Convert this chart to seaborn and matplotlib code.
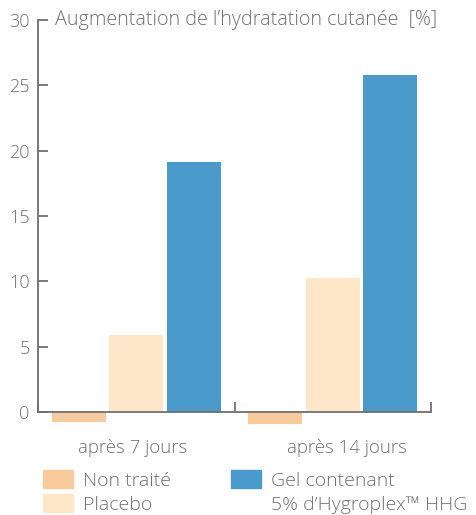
import numpy as np
import pandas as pd
import matplotlib
matplotlib.use("Agg")
import matplotlib.pyplot as plt
import matplotlib.patches as mpatches
import seaborn as sns

groups = ["après 7 jours", "après 14 jours"]
series = ["Non traité", "Placebo", "Gel contenant\n5% d’Hygroplex™ HHG"]
non_traite = [-0.8, -0.9]
placebo = [5.9, 10.25]
gel = [19.1, 25.8]
colors = ["#F9CB9C", "#FDE7C8", "#4A9BCB"]

grey = "#707070"

sns.set_theme(style="white")
plt.rcParams["font.family"] = ["Open Sans", "DejaVu Sans"]
plt.rcParams["font.weight"] = "light"
plt.rcParams["ytick.left"] = True
plt.rcParams["xtick.bottom"] = True

df = pd.DataFrame({
    "groupe": groups * 3,
    "serie": [series[0]] * 2 + [series[1]] * 2 + [series[2]] * 2,
    "valeur": non_traite + placebo + gel,
})

fig = plt.figure(figsize=(4.76, 5.15), dpi=100)
ax = fig.add_axes([38 / 476, 1 - 431.6 / 515, 393 / 476, 411.6 / 515])

sns.barplot(data=df, x="groupe", y="valeur", hue="serie", order=groups,
            hue_order=series, palette=colors, width=0.878, saturation=1,
            legend=False, ax=ax)

# small white gaps between bars
for p in ax.patches:
    w = p.get_width()
    new_w = 54 / 196.5
    p.set_x(p.get_x() + (w - new_w) / 2)
    p.set_width(new_w)
    p.set_linewidth(0)

ax.set_xlim(-0.5, 1.5)
ax.set_ylim(-1.5, 30)
ax.set_xlabel("")
ax.set_ylabel("")

for s in ["top", "right"]:
    ax.spines[s].set_visible(False)
ax.spines["bottom"].set_position(("data", 0))
ax.spines["left"].set_bounds(0, 30)
for s in ["left", "bottom"]:
    ax.spines[s].set_color(grey)
    ax.spines[s].set_linewidth(1.3)

ax.set_yticks([0, 5, 10, 15, 20, 25, 30])
ax.tick_params(axis="y", direction="in", length=7, width=1.3, color=grey,
               labelcolor=grey, labelsize=13, pad=6, left=True)
# group labels sit a little off-centre in the original
ax.set_xticks([-0.02, 1.07])
ax.set_xticklabels(groups)
ax.set_xticks([-0.5, 0.5, 1.5], minor=True)
ax.tick_params(axis="x", which="major", length=0, labelcolor=grey,
               labelsize=13.4, pad=19)
ax.tick_params(axis="x", which="minor", direction="in", length=7, width=1.3,
               color=grey, bottom=True)

ax.text((55 - 38) / 393, 1.0, "Augmentation de l’hydratation cutanée  [%]",
        transform=ax.transAxes, ha="left", va="center", fontsize=14.2,
        color=grey)

handles = [mpatches.Patch(color=colors[0]), mpatches.Patch(color=colors[1]),
           mpatches.Patch(color=colors[2]), mpatches.Patch(color="none")]
labels = ["Non traité", "Placebo", "Gel contenant", "5% d’Hygroplex™ HHG"]
leg = fig.legend(handles, labels, ncol=2, loc="upper left",
                 bbox_to_anchor=(43 / 476, 1 - 470 / 515), frameon=False,
                 fontsize=14, handlelength=1.55, handleheight=1.05,
                 handletextpad=0.5, labelspacing=0.22, columnspacing=3.1,
                 borderpad=0, borderaxespad=0)
for t in leg.get_texts():
    t.set_color(grey)

fig.savefig("out.png", dpi=100)
